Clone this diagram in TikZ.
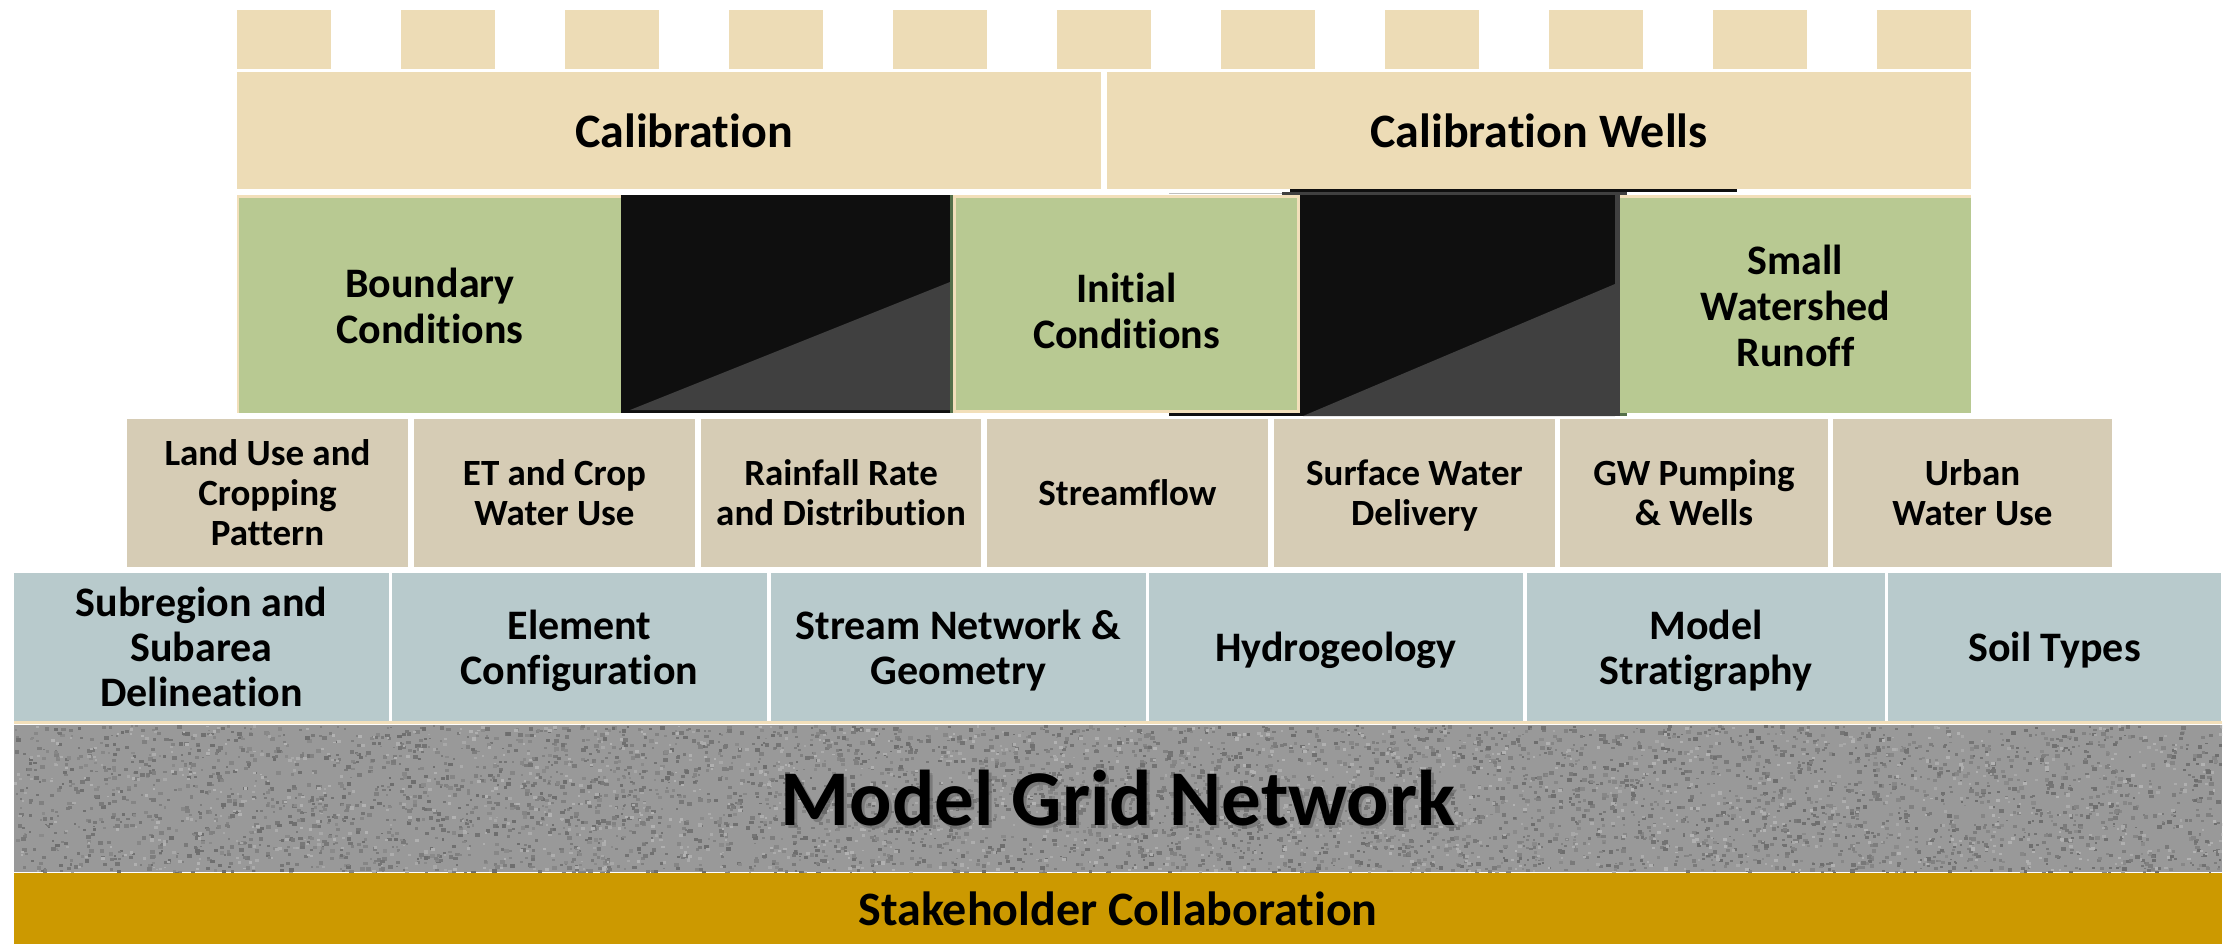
\documentclass[tikz,border=0pt]{standalone}
\usepackage{fontspec}
\setmainfont{Carlito}[Ligatures=NoCommon]

\definecolor{parch}{HTML}{EDDCB6}
\definecolor{moss}{HTML}{B8C992}
\definecolor{sand}{HTML}{D6CCB5}
\definecolor{slate}{HTML}{B8CACC}
\definecolor{gold}{HTML}{CC9900}
\definecolor{ink}{HTML}{0F0F0F}
\definecolor{shadegray}{HTML}{404040}
\definecolor{rim}{HTML}{F2DFBA}
\definecolor{olive}{HTML}{55704A}

\tikzset{
  blk/.style={anchor=north west, inner sep=0pt, outer sep=0pt, align=center, text depth=0pt},
  capfont/.style={font=\fontsize{48}{52}\selectfont\bfseries},
  greenfont/.style={font=\fontsize{42}{46}\selectfont\bfseries},
  datafont/.style={font=\fontsize{37}{40}\selectfont\bfseries},
  basefont/.style={font=\fontsize{42}{45}\selectfont\bfseries, text depth=-6pt},
  gridfont/.style={font=\fontsize{79}{85}\selectfont\bfseries},
}

\begin{document}
\begin{tikzpicture}[x=1pt,y=-1pt]
\useasboundingbox[fill=white] (0,0) rectangle (2233,944);

% battlements along the top
\foreach \i in {0,...,10} {
  \node[blk, fill=parch, minimum width=94pt, minimum height=59pt] (merlon\i) at ({237+164*\i},10) {};
}

% calibration tier
\node[blk, fill=parch, minimum width=864pt, minimum height=117pt] (calib) at (237,72) {};
\node[capfont, inner sep=0pt] (calibtxt) at (684,131) {Calibration};
\node[blk, fill=parch, capfont, minimum width=864pt, minimum height=117pt] (wells) at (1107,72) {Calibration Wells};

% conditions tier
\fill[rim] (237,195) rectangle (621,413);
\node[blk, fill=moss, greenfont, minimum width=382pt, minimum height=215pt] (boundary) at (239,198) {Boundary\\Conditions};

\fill[ink] (621,195) rectangle (950,413);
\fill[shadegray] (630,410) -- (950,282) -- (950,410) -- cycle;
\fill[olive] (950,195) rectangle (953,413);

\fill[rim] (953,195) rectangle (1300,413);
\fill[moss] (956,198) rectangle (1297,410);
\node[greenfont, align=center, inner sep=0pt] (initial) at (1126.5,311) {Initial\\Conditions};

\fill[black!25] (1169,193.5) rectangle (1282,194.5);
\fill[ink] (1290,189) rectangle (1737,192);
\fill[shadegray] (1282,192) rectangle (1627,195);
\fill[ink] (1300,195) rectangle (1620,416);
\fill[shadegray] (1303,416) -- (1615,284) -- (1615,416) -- cycle;
\fill[shadegray] (1615,192) rectangle (1620,416);
\fill[ink] (1169,413) rectangle (1303,416);
\fill[olive] (1620,413) rectangle (1627,416);

\fill[rim] (1620,195) rectangle (1971,413);
\node[blk, fill=moss, greenfont, minimum width=351pt, minimum height=215pt] (runoff) at (1620,198) {Small\\Watershed\\Runoff};

% data tier
\node[blk, fill=sand, datafont, minimum width=281pt, minimum height=148pt] (landuse) at (127,419) {Land Use and\\Cropping\\Pattern};
\node[blk, fill=sand, datafont, minimum width=281pt, minimum height=148pt] (etcrop) at (414,419) {ET and Crop\\Water Use};
\node[blk, fill=sand, datafont, minimum width=280pt, minimum height=148pt] (rain) at (701,419) {Rainfall Rate\\and Distribution};
\node[blk, fill=sand, datafont, minimum width=281pt, minimum height=148pt] (flow) at (987,419) {Streamflow};
\node[blk, fill=sand, datafont, minimum width=281pt, minimum height=148pt] (surface) at (1274,419) {Surface Water\\Delivery};
\node[blk, fill=sand, datafont, minimum width=268pt, minimum height=148pt] (pumping) at (1560,419) {GW Pumping\\\& Wells};
\node[blk, fill=sand, datafont, minimum width=279pt, minimum height=148pt] (urban) at (1833,419) {Urban\\Water Use};

% framework tier
\node[blk, fill=slate, basefont, minimum width=375pt, minimum height=148pt] (subregion) at (14,573) {Subregion and\\Subarea\\Delineation};
\node[blk, fill=slate, basefont, minimum width=375pt, minimum height=148pt] (element) at (392,573) {Element\\Configuration};
\node[blk, fill=slate, basefont, minimum width=375pt, minimum height=148pt] (stream) at (771,573) {Stream Network \&\\Geometry};
\node[blk, fill=slate, basefont, minimum width=374pt, minimum height=148pt] (hydro) at (1149,573) {Hydrogeology};
\node[blk, fill=slate, basefont, minimum width=358pt, minimum height=148pt] (strat) at (1527,573) {Model\\Stratigraphy};
\node[blk, fill=slate, basefont, minimum width=333pt, minimum height=148pt] (soil) at (1888,573) {Soil Types};
\fill[rim] (14,721) rectangle (2222,724);

% grid network band with granite grain
\node[blk, fill=black!40, minimum width=2208pt, minimum height=147pt] (gridband) at (14,725) {};
\begin{scope}
  \clip (14,725) rectangle (2222,872);
  \pgfmathsetseed{7}
  \foreach \k in {1,...,5200} {
    \pgfmathsetmacro\px{14+2208*rnd}
    \pgfmathsetmacro\py{725+147*rnd}
    \pgfmathsetmacro\sz{2+3*rnd}
    \pgfmathtruncatemacro\tone{46+12*rnd}
    \fill[black!\tone] (\px,\py) rectangle ++(\sz,0.8*\sz);
  }
  \foreach \k in {1,...,1300} {
    \pgfmathsetmacro\px{14+2208*rnd}
    \pgfmathsetmacro\py{725+147*rnd}
    \pgfmathsetmacro\sz{2+2*rnd}
    \pgfmathtruncatemacro\tone{30+5*rnd}
    \fill[black!\tone] (\px,\py) rectangle ++(\sz,0.8*\sz);
  }
\end{scope}
\node[gridfont, text=black!60, opacity=0.6, inner sep=0pt] (gridshadow) at (1121,801) {Model Grid Network};
\node[gridfont, inner sep=0pt] (gridtxt) at (1118,798) {Model Grid Network};

% foundation
\node[blk, fill=gold, capfont, minimum width=2208pt, minimum height=71pt] (stake) at (14,873) {Stakeholder Collaboration};
\end{tikzpicture}
\end{document}
